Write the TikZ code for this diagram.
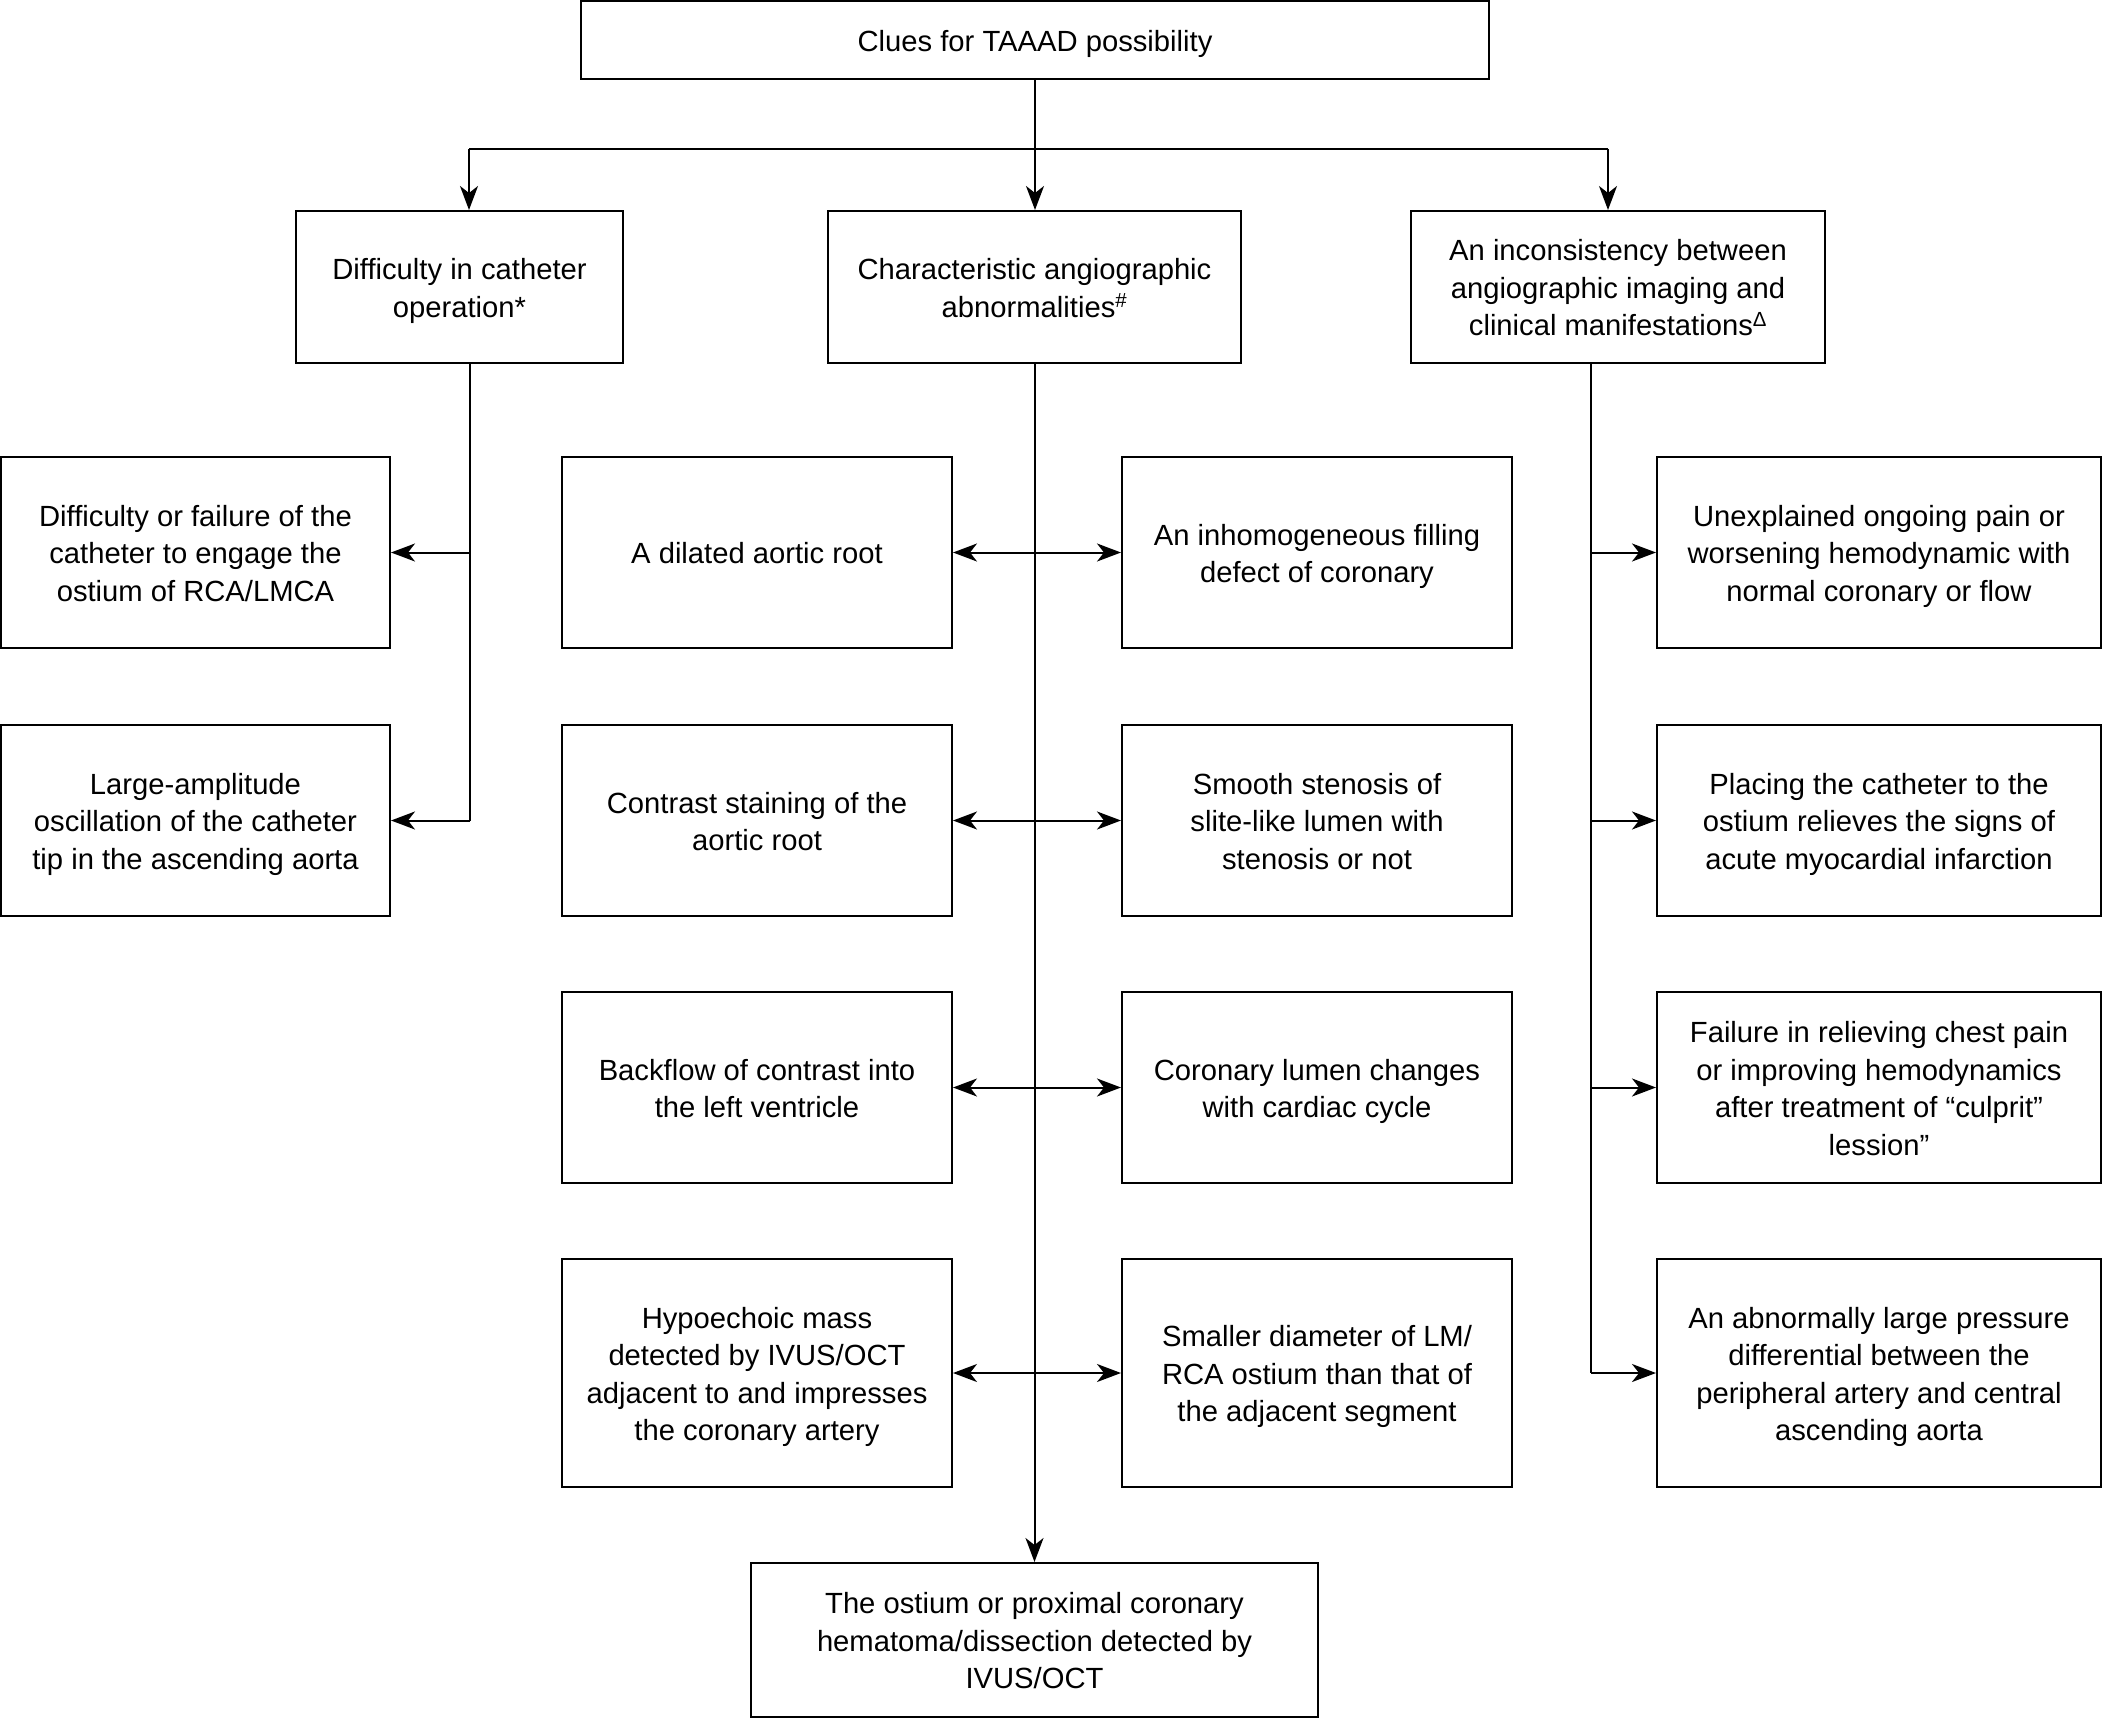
\documentclass[tikz,border=0pt]{standalone}
\usepackage{fontspec}
\setmainfont{Liberation Sans}
\usetikzlibrary{arrows.meta}
\newcommand\st{\rule[-7.5pt]{0pt}{37.5pt}}
\begin{document}
\begin{tikzpicture}[x=1pt,y=-1pt,
  box/.style={draw,line width=2pt,rectangle,inner sep=0pt,align=center,
    font=\fontsize{29.2}{37.5}\selectfont},
  conn/.style={line width=2pt},
  arr/.style={conn,-{Stealth[length=24pt,width=18pt,inset=7pt]}},
  darr/.style={conn,{Stealth[length=24pt,width=18pt,inset=7pt]}-{Stealth[length=24pt,width=18pt,inset=7pt]}}]
\useasboundingbox (0,0) rectangle (2102,1718);
% top
\node[box,minimum width=908pt,minimum height=78pt] (top) at (1035,40) {\st Clues for TAAAD possibility};
% level 2
\node[box,minimum width=327pt,minimum height=152pt] (A) at (459.5,287) {\st Difficulty in catheter\\\st operation*};
\node[box,minimum width=413pt,minimum height=152pt] (B) at (1034.5,287) {\st Characteristic angiographic\\\st abnormalities\textsuperscript{\#}};
\node[box,minimum width=414pt,minimum height=152pt] (C) at (1618,287) {\st An inconsistency between\\\st angiographic imaging and\\\st clinical manifestations\textsuperscript{Δ}};
% left column
\node[box,minimum width=389pt,minimum height=191pt] (L1) at (195.5,552.5) {\st Difficulty or failure of the\\\st catheter to engage the\\\st ostium of RCA/LMCA};
\node[box,minimum width=389pt,minimum height=191pt] (L2) at (195.5,820.5) {\st Large-amplitude\\\st oscillation of the catheter\\\st tip in the ascending aorta};
% middle columns
\node[box,minimum width=390pt,minimum height=191pt] (ML1) at (757,552.5) {\st A dilated aortic root};
\node[box,minimum width=390pt,minimum height=191pt] (MR1) at (1317,552.5) {\st An inhomogeneous filling\\\st defect of coronary};
\node[box,minimum width=390pt,minimum height=191pt] (ML2) at (757,820.5) {\st Contrast staining of the\\\st aortic root};
\node[box,minimum width=390pt,minimum height=191pt] (MR2) at (1317,820.5) {\st Smooth stenosis of\\\st slite-like lumen with\\\st stenosis or not};
\node[box,minimum width=390pt,minimum height=191pt] (ML3) at (757,1087.5) {\st Backflow of contrast into\\\st the left ventricle};
\node[box,minimum width=390pt,minimum height=191pt] (MR3) at (1317,1087.5) {\st Coronary lumen changes\\\st with cardiac cycle};
\node[box,minimum width=390pt,minimum height=228pt] (ML4) at (757,1373) {\st Hypoechoic mass\\\st detected by IVUS/OCT\\\st adjacent to and impresses\\\st the coronary artery};
\node[box,minimum width=390pt,minimum height=228pt] (MR4) at (1317,1373) {\st Smaller diameter of LM/\\\st RCA ostium than that of\\\st the adjacent segment};
% right column
\node[box,minimum width=444pt,minimum height=191pt] (R1) at (1879,552.5) {\st Unexplained ongoing pain or\\\st worsening hemodynamic with\\\st normal coronary or flow};
\node[box,minimum width=444pt,minimum height=191pt] (R2) at (1879,820.5) {\st Placing the catheter to the\\\st ostium relieves the signs of\\\st acute myocardial infarction};
\node[box,minimum width=444pt,minimum height=191pt] (R3) at (1879,1087.5) {\st Failure in relieving chest pain\\\st or improving hemodynamics\\\st after treatment of “culprit”\\\st lession”};
\node[box,minimum width=444pt,minimum height=228pt] (R4) at (1879,1373) {\st An abnormally large pressure\\\st differential between the\\\st peripheral artery and central\\\st ascending aorta};
% bottom
\node[box,minimum width=567pt,minimum height=154pt] (bot) at (1034.5,1640) {\st The ostium or proximal coronary\\\st hematoma/dissection detected by\\\st IVUS/OCT};
% connectors top
\coordinate (hl) at (469,149);
\coordinate (hm) at (1035,149);
\coordinate (hr) at (1608,149);
\draw[conn] (top.south) -- (hm);
\draw[conn] (hl) -- (hr);
\draw[arr] (hl) -- (hl |- A.north);
\draw[arr] (hm) -- (hm |- B.north);
\draw[arr] (hr) -- (hr |- C.north);
% left
\coordinate (lv) at (470,820.5);
\draw[conn] (lv |- A.south) -- (lv);
\draw[arr] (lv |- L1.east) -- (L1.east);
\draw[arr] (lv) -- (L2.east);
% middle
\draw[arr] (B.south) -- (bot.north);
\draw[darr] (ML1.east) -- (MR1.west);
\draw[darr] (ML2.east) -- (MR2.west);
\draw[darr] (ML3.east) -- (MR3.west);
\draw[darr] (ML4.east) -- (MR4.west);
% right
\coordinate (rv) at (1591,1373);
\draw[conn] (rv |- C.south) -- (rv);
\draw[arr] (rv |- R1.west) -- (R1.west);
\draw[arr] (rv |- R2.west) -- (R2.west);
\draw[arr] (rv |- R3.west) -- (R3.west);
\draw[arr] (rv) -- (R4.west);
\end{tikzpicture}
\end{document}
